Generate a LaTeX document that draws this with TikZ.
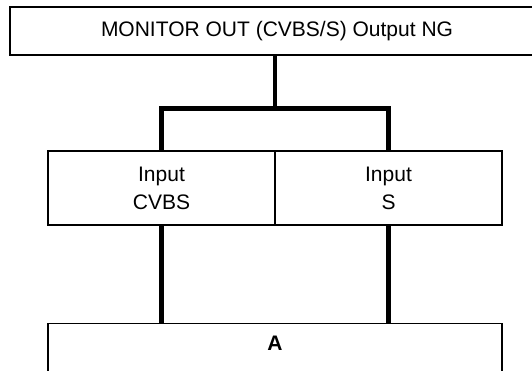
\documentclass[tikz,border=0pt]{standalone}
\usepackage{fontspec}
\setmainfont{Liberation Sans}
\usetikzlibrary{positioning}
\tikzset{
  every node/.style={
    font=\fontsize{21}{28}\selectfont,
    line width=1.5pt
  },
  box/.style={draw, inner sep=0pt, align=center},
  bus/.style={line width=4.5pt, line join=miter}
}

\begin{document}
\begin{tikzpicture}[x=1pt,y=-1pt]
        \clip (0,0) rectangle (532,370);
        \node [box, minimum width=534pt, minimum height=48pt] (monitor) at (277,31) {MONITOR OUT (CVBS/S) Output NG};
        \node [box, minimum width=227pt, minimum height=74pt] (cvbs) at (161.5,188) {Input\\CVBS};
        \node [box, on grid, minimum width=227pt, minimum height=74pt, right=227pt of cvbs] (svid) {Input\\S};
        \node [box, anchor=north, minimum width=454pt, inner ysep=13pt, text depth=40pt] (unita) at (275,322.5) {\textbf{A}};
        \coordinate (split) at (275,108.5);
        \draw [bus] (monitor.south -| split) to (split);
        \draw [bus] (cvbs.north) |- (split) -| (svid.north);
        \draw [bus] (cvbs.south) to (cvbs.south |- unita.north);
        \draw [bus] (svid.south) to (svid.south |- unita.north);
      \end{tikzpicture}
\end{document}
